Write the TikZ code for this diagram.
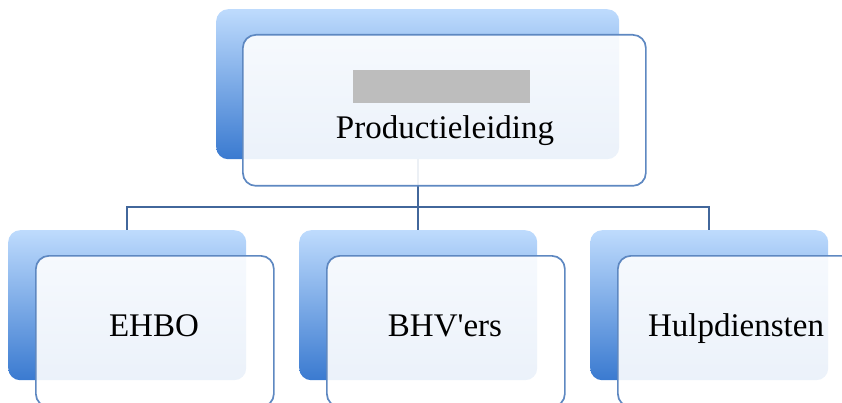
\documentclass[tikz,border=0pt]{standalone}
\usepackage{fontspec}
\setmainfont{Liberation Serif}
\definecolor{cardtop}{RGB}{190,219,253}
\definecolor{cardmid}{RGB}{160,195,242}
\definecolor{cardbot}{RGB}{58,122,208}
\definecolor{cardline}{RGB}{94,136,193}
\definecolor{linkline}{RGB}{66,103,155}
\definecolor{hidden}{RGB}{189,189,189}
\begin{document}
\begin{tikzpicture}[x=1pt,y=-1pt,
		backcard/.style={anchor=north west,inner sep=0pt,rounded corners=12pt,top color=cardtop,middle color=cardmid,bottom color=cardbot,minimum width=#1,minimum height=150pt},
		frontcard/.style={anchor=north west,inner sep=0pt,rounded corners=13pt,draw=cardline,line width=1.7pt,fill=white,fill opacity=.9,minimum width=#1,minimum height=151pt},
		link/.style={draw=linkline,line width=2.2pt},
		lbl/.style={anchor=base,font=\fontsize{33}{38}\selectfont}]
		\useasboundingbox (0,0) rectangle (842,403);
		\clip (0,0) rectangle (842,403);
		\coordinate (bus) at (0,207);
		\node[backcard=403pt] (top back) at (216,9) {};
		\foreach[count=\i] \x in {8,299,590}{
			\node[backcard=238pt] (c\i back) at (\x,230) {};
			\draw[link] (top back.south) -- (top back.south |- bus) -| (c\i back.north);
		}
		\node[frontcard=403pt] (top front) at (242,34) {};
		\node[fill=hidden,minimum width=177pt,minimum height=33pt,inner sep=0pt] (name) at (441.5,86.5) {};
		\node[lbl] (top text) at (445,139) {Productieleiding};
		\foreach[count=\i] \x/\name in {8/EHBO,299/BHV\textquotesingle ers,590/Hulpdiensten}{
			\node[frontcard=238pt] (c\i front) at (\x+27,255) {};
			\node[lbl] (c\i text) at (\x+146,336) {\name};
		}
	\end{tikzpicture}
\end{document}
